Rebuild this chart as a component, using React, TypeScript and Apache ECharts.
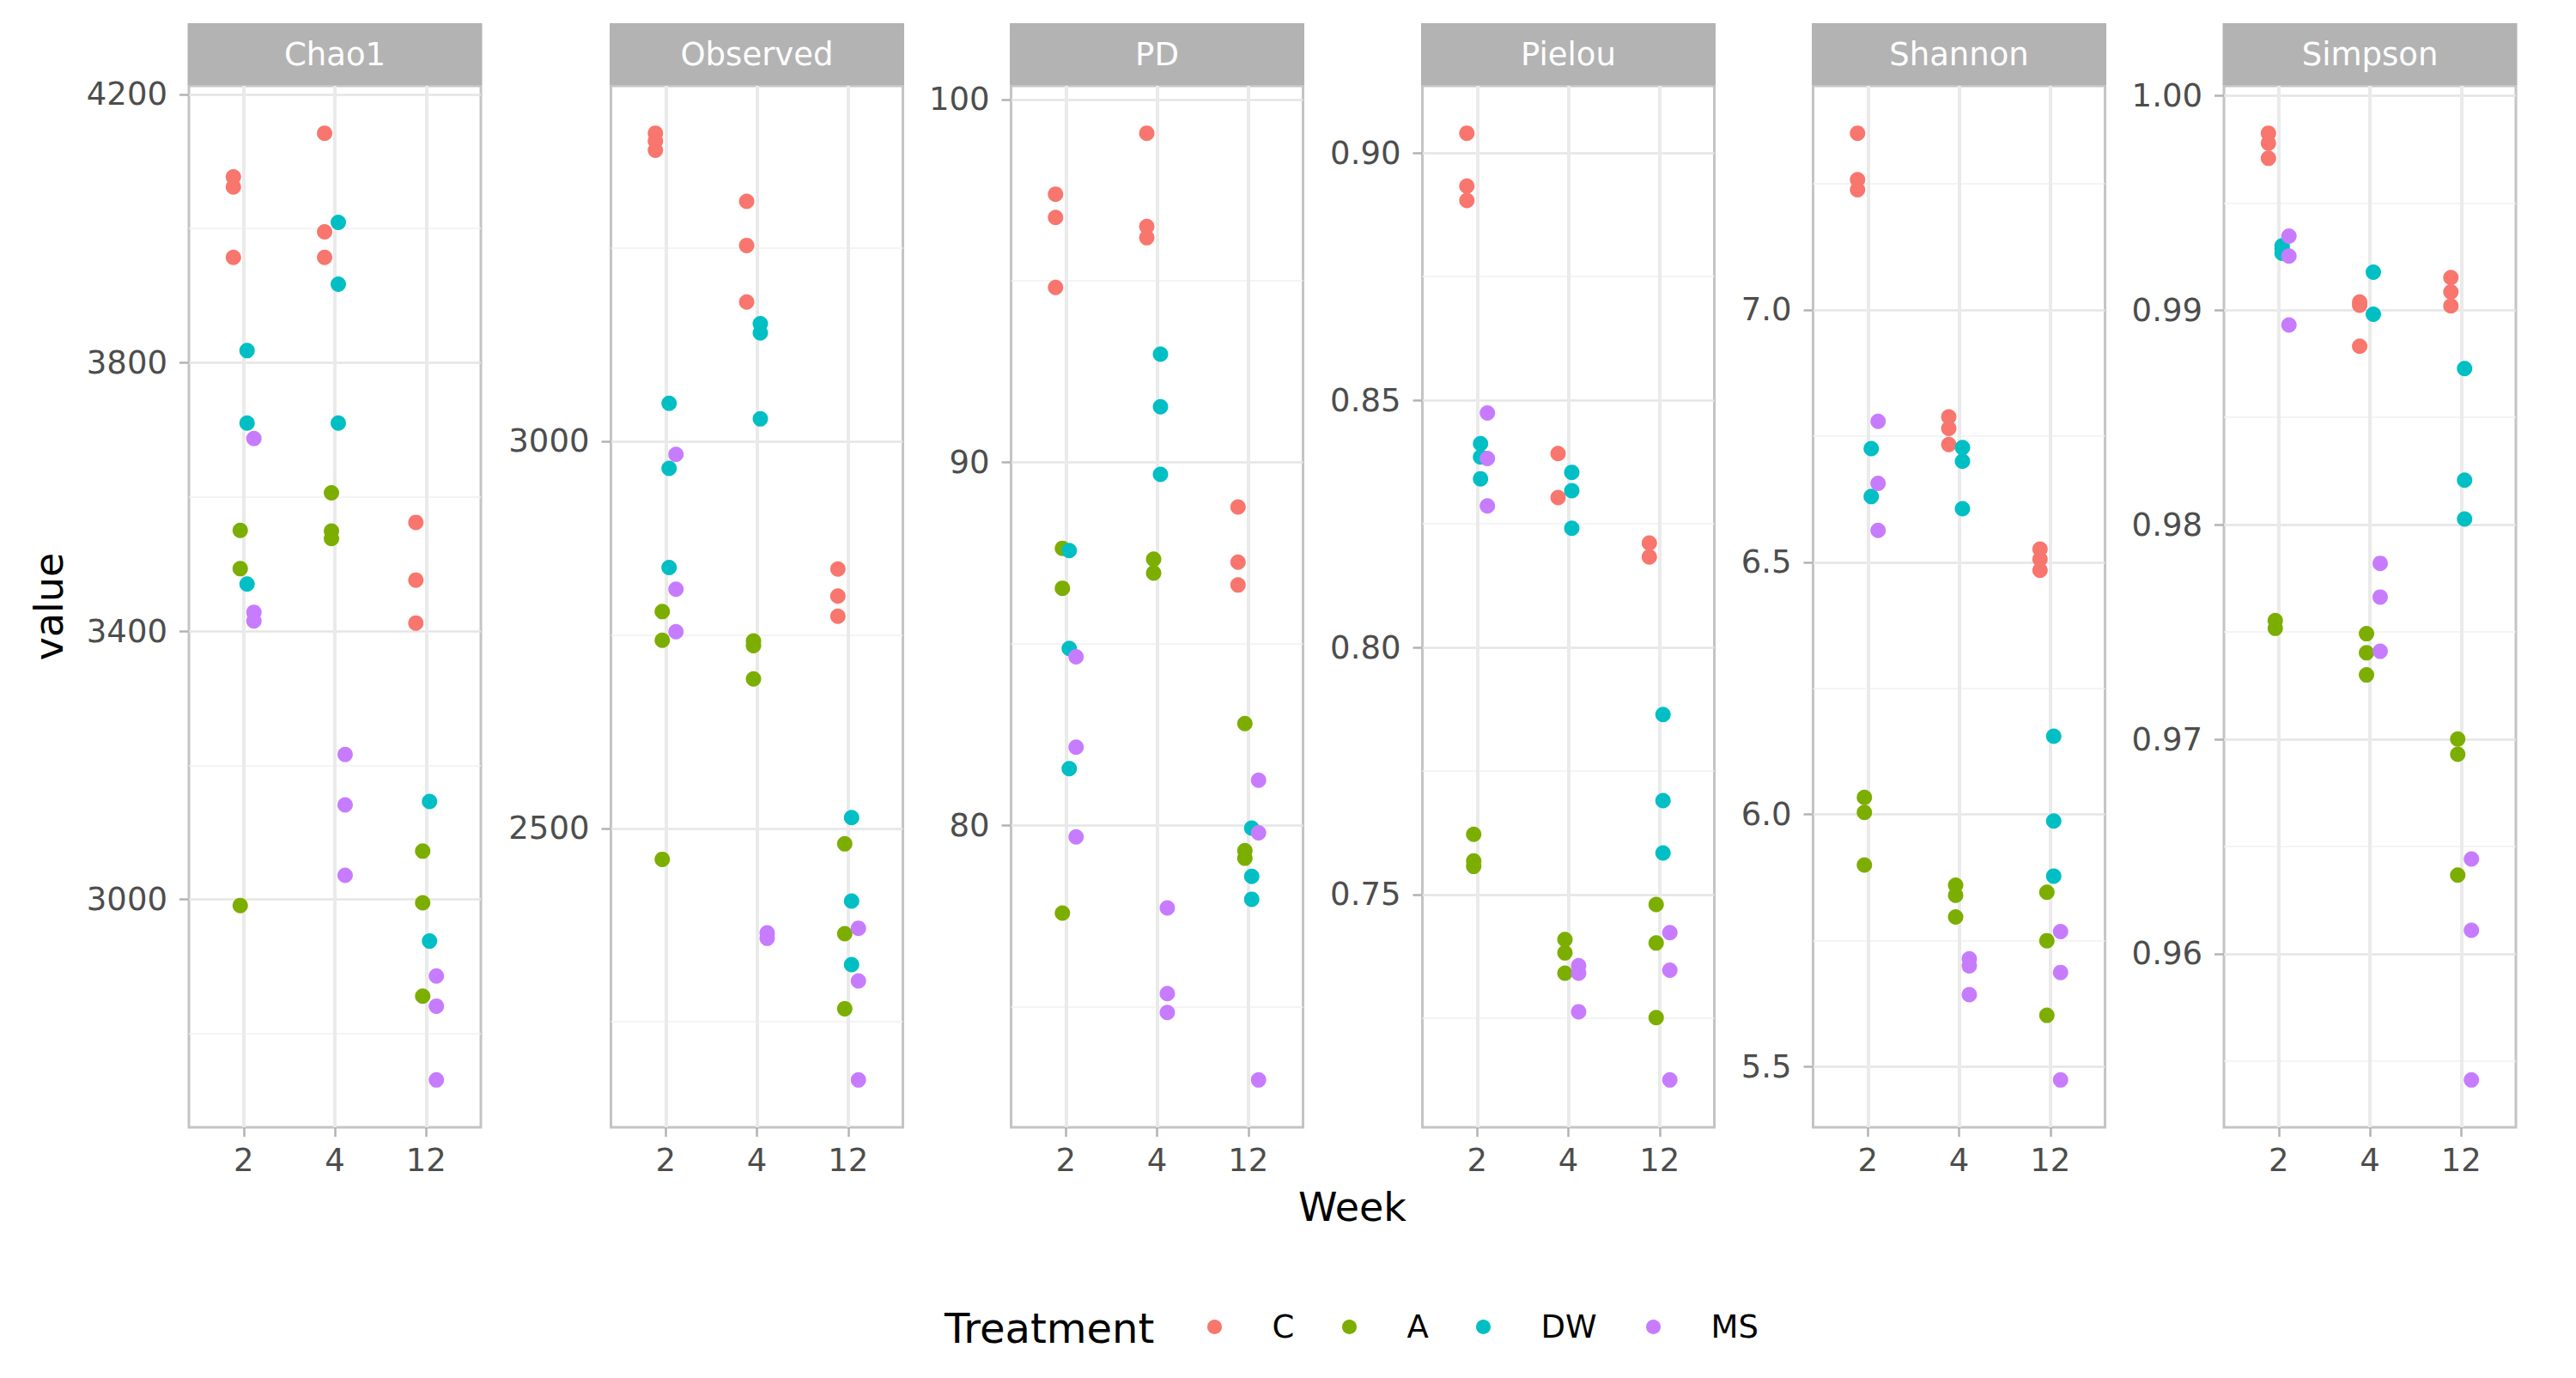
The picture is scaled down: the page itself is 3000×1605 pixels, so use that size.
import React, { useEffect, useRef } from 'react';
import * as echarts from 'echarts';

// ---------- data ----------
const weeks = ['2', '4', '12'];
const treatments = ['C', 'A', 'DW', 'MS'];
const treatmentColors = ['#F8766D', '#7CAE00', '#00BFC4', '#C77CFF'];
const metrics = ['Chao1', 'Observed', 'PD', 'Pielou', 'Shannon', 'Simpson'];

// values per treatment: [week 2, week 4, week 12]
const chao1 = {
  C: [[4077, 4062, 3957], [4142, 3995, 3957], [3562, 3476, 3412]],
  A: [[3550, 3493, 2991], [3606, 3549, 3538], [3072, 2995, 2856]],
  DW: [[3818, 3710, 3470], [4009, 3917, 3710], [3146, 2938]],
  MS: [[3687, 3428, 3415], [3216, 3141, 3036], [2886, 2841, 2731]],
};
const observed = {
  C: [[3398, 3388, 3376], [3310, 3253, 3180], [2835, 2800, 2774]],
  A: [[2780, 2743, 2460], [2742, 2736, 2693], [2480, 2364, 2267]],
  DW: [[3049, 2965, 2837], [3152, 3140, 3029], [2514, 2406, 2324]],
  MS: [[2983, 2809, 2754], [2365, 2358], [2371, 2303, 2175]],
};
const pd = {
  C: [[97.39, 96.75, 94.82], [99.07, 96.5, 96.19], [88.77, 87.25, 86.62]],
  A: [[87.63, 86.53, 77.58], [87.33, 86.95], [82.8, 79.3, 79.09]],
  DW: [[87.57, 84.87, 81.56], [92.98, 91.53, 89.67], [79.92, 78.59, 77.96]],
  MS: [[84.64, 82.15, 79.68], [77.72, 75.36, 74.84], [81.24, 79.79, 72.98]],
};
const pielou = {
  C: [[0.904, 0.8933, 0.8904], [0.8392, 0.8303], [0.8211, 0.8183]],
  A: [[0.7622, 0.7568, 0.7557], [0.7409, 0.7382, 0.7341], [0.748, 0.7402, 0.7251]],
  DW: [[0.8412, 0.8385, 0.8341], [0.8354, 0.8317, 0.8241], [0.7864, 0.769, 0.7584]],
  MS: [[0.8474, 0.8382, 0.8286], [0.7356, 0.7341, 0.7263], [0.7423, 0.7347, 0.7125]],
};
const shannon = {
  C: [[7.35, 7.258, 7.238], [6.788, 6.765, 6.733], [6.526, 6.506, 6.484]],
  A: [[6.034, 6.004, 5.9], [5.86, 5.84, 5.797], [5.846, 5.75, 5.602]],
  DW: [[6.725, 6.63], [6.727, 6.7, 6.606], [6.155, 5.987, 5.878]],
  MS: [[6.779, 6.656, 6.563], [5.714, 5.7, 5.643], [5.768, 5.687, 5.474]],
};
const simpson = {
  C: [[0.99825, 0.99779, 0.99708], [0.99038, 0.99023, 0.98832], [0.99152, 0.99085, 0.9902]],
  A: [[0.97553, 0.97517], [0.97492, 0.97403, 0.973], [0.97001, 0.9693, 0.96367]],
  DW: [[0.993, 0.99285, 0.99265], [0.99177, 0.98981], [0.98728, 0.98208, 0.98027]],
  MS: [[0.99345, 0.99252, 0.98931], [0.9782, 0.97663, 0.9741], [0.96442, 0.9611, 0.95412]],
};

// major tick labels per panel
const chao1Ticks = [3000, 3400, 3800, 4200];
const observedTicks = [2500, 3000];
const pdTicks = [80, 90, 100];
const pielouTicks = [0.75, 0.8, 0.85, 0.9];
const shannonTicks = [5.5, 6.0, 6.5, 7.0];
const simpsonTicks = [0.96, 0.97, 0.98, 0.99, 1.0];
const tickDecimals = [0, 0, 0, 2, 1, 2];

const metricData: any[] = [chao1, observed, pd, pielou, shannon, simpson];
const metricTicks = [chao1Ticks, observedTicks, pdTicks, pielouTicks, shannonTicks, simpsonTicks];

// ---------- layout / style ----------
const FONT = 'DejaVu Sans';
const W = 3000;
const H = 1605;
const panelLefts = [220, 711.5, 1177.5, 1656.5, 2111.5, 2590];
const PANEL_W = 340;
const STRIP_TOP = 27;
const PANEL_TOP = 100;
const PANEL_BOTTOM = 1313;
const dodge = [-0.1125, -0.0375, 0.0375, 0.1125];
const legendKeyCenters = [1416, 1573, 1729, 1927];
const LEGEND_SHIFT = 52;
const TICK_FS = 37;
const TITLE_FS = 46;

function buildOption() {
  const grid: any[] = [];
  const xAxis: any[] = [];
  const yAxis: any[] = [];
  const series: any[] = [];
  const graphic: any[] = [];

  metrics.forEach((name, k) => {
    const d = metricData[k];
    const all: number[] = [];
    treatments.forEach((t) => d[t].forEach((arr: number[]) => arr.forEach((v) => all.push(v))));
    const lo = Math.min(...all);
    const hi = Math.max(...all);
    const pad = (hi - lo) * 0.05;
    const ymin = lo - pad;
    const ymax = hi + pad;
    const majors = metricTicks[k];
    const half = (majors[1] - majors[0]) / 2;
    const minors: number[] = [];
    for (let i = -20; i <= 40; i++) {
      const v = majors[0] + i * half;
      if (v >= ymin && v <= ymax && i % 2 !== 0) minors.push(parseFloat(v.toFixed(6)));
    }
    const dec = tickDecimals[k];

    grid.push({
      left: panelLefts[k],
      top: PANEL_TOP,
      width: PANEL_W,
      height: PANEL_BOTTOM - PANEL_TOP,
      show: true,
      borderColor: '#C4C4C4',
      borderWidth: 3,
      backgroundColor: '#FFFFFF',
      containLabel: false,
      outerBoundsMode: 'none',
    });

    xAxis.push({
      type: 'value',
      gridIndex: k,
      position: 'bottom',
      min: 0.4,
      max: 3.6,
      axisLine: { show: false },
      axisTick: {
        show: true,
        length: 11,
        customValues: [1, 2, 3],
        lineStyle: { color: '#B3B3B3', width: 2.5 },
      },
      axisLabel: {
        customValues: [1, 2, 3],
        formatter: (v: number) => weeks[Math.round(v) - 1] ?? '',
        margin: 20,
        fontSize: TICK_FS,
        fontFamily: FONT,
        color: '#4D4D4D',
      },
      splitLine: { show: true, lineStyle: { color: '#EAEAEA', width: 4 } },
    });

    // minor grid axis (holds data)
    yAxis.push({
      type: 'value',
      gridIndex: k,
      position: 'left',
      offset: 0,
      min: ymin,
      max: ymax,
      axisLine: { show: false },
      axisTick: { show: false, customValues: minors },
      axisLabel: { show: false, customValues: minors },
      splitLine: { show: true, lineStyle: { color: '#F0F0F0', width: 1.6 } },
    });
    // major axis with labels
    yAxis.push({
      type: 'value',
      gridIndex: k,
      position: 'left',
      offset: 0,
      min: ymin,
      max: ymax,
      axisLine: { show: false },
      axisTick: {
        show: true,
        length: 11,
        customValues: majors,
        lineStyle: { color: '#B3B3B3', width: 2.5 },
      },
      axisLabel: {
        customValues: majors,
        formatter: (v: number) => v.toFixed(dec),
        margin: 25,
        fontSize: TICK_FS,
        fontFamily: FONT,
        color: '#4D4D4D',
      },
      splitLine: { show: true, lineStyle: { color: '#E5E5E5', width: 2.5 } },
    });

    treatments.forEach((t, j) => {
      const pts: number[][] = [];
      d[t].forEach((arr: number[], wi: number) => {
        arr.forEach((v) => pts.push([wi + 1 + dodge[j], v]));
      });
      series.push({
        type: 'scatter',
        name: t,
        xAxisIndex: k,
        yAxisIndex: 2 * k,
        data: pts,
        symbol: 'circle',
        symbolSize: 18,
        itemStyle: { color: treatmentColors[j], opacity: 1 },
        silent: true,
        z: 3,
      });
    });

    graphic.push({
      type: 'rect',
      shape: { x: panelLefts[k] - 1.5, y: STRIP_TOP, width: PANEL_W + 3, height: PANEL_TOP - STRIP_TOP - 1 },
      style: { fill: '#B3B3B3' },
    });
    graphic.push({
      type: 'text',
      x: panelLefts[k] + PANEL_W / 2,
      y: (STRIP_TOP + PANEL_TOP) / 2,
      style: {
        text: name,
        fill: '#FFFFFF',
        fontSize: TICK_FS,
        fontFamily: FONT,
        align: 'center',
        verticalAlign: 'middle',
      },
    });
  });

  graphic.push({
    type: 'text',
    x: 57,
    y: (PANEL_TOP + PANEL_BOTTOM) / 2,
    rotation: Math.PI / 2,
    style: { text: 'value', fill: '#000000', fontSize: TITLE_FS, fontFamily: FONT, align: 'center', verticalAlign: 'middle' },
  });
  graphic.push({
    type: 'text',
    x: (panelLefts[0] + panelLefts[5] + PANEL_W) / 2,
    y: 1406,
    style: { text: 'Week', fill: '#000000', fontSize: TITLE_FS, fontFamily: FONT, align: 'center', verticalAlign: 'middle' },
  });
  graphic.push({
    type: 'text',
    x: 1100,
    y: 1547,
    style: { text: 'Treatment', fill: '#000000', fontSize: 48, fontFamily: FONT, align: 'left', verticalAlign: 'middle' },
  });

  const legend = treatments.map((t, i) => ({
    data: [t],
    left: legendKeyCenters[i] - 62 + LEGEND_SHIFT,
    top: 1527,
    icon: 'circle',
    itemWidth: 124,
    itemHeight: 17,
    padding: 0,
    selectedMode: false,
    textStyle: { fontSize: TICK_FS, fontFamily: FONT, color: '#000000' },
  }));

  return {
    animation: false,
    backgroundColor: '#FFFFFF',
    textStyle: { fontFamily: FONT },
    grid,
    xAxis,
    yAxis,
    series,
    legend,
    graphic,
  };
}

export default function App() {
  const ref = useRef<HTMLDivElement>(null);
  useEffect(() => {
    if (!ref.current) return;
    const chart = echarts.init(ref.current, undefined, { renderer: 'svg' });
    chart.setOption(buildOption() as any);
    return () => chart.dispose();
  }, []);
  return (
    <div
      ref={ref}
      style={{ position: 'absolute', left: 0, top: 0, width: W, height: H, background: '#fff' }}
    />
  );
}
